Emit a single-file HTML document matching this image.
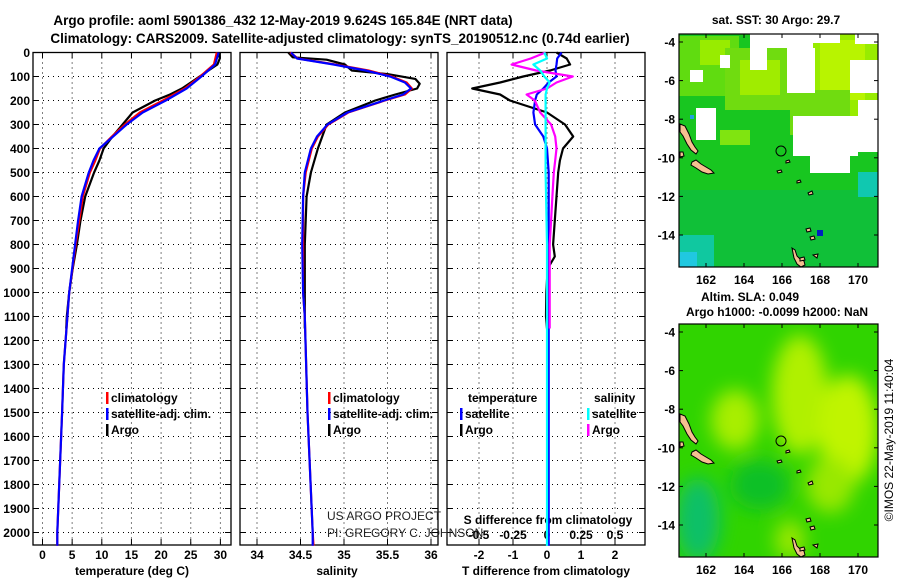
<!DOCTYPE html>
<html><head><meta charset="utf-8">
<style>
html,body{margin:0;padding:0;background:#fff;}
svg{display:block;font-family:"Liberation Sans",Arial,sans-serif;}
.b{font-weight:bold;font-size:12px;fill:#000;}
.t{font-weight:bold;font-size:13.5px;fill:#000;}
</style></head>
<body>
<svg id="chart" width="900" height="580" viewBox="0 0 900 580" xmlns="http://www.w3.org/2000/svg">
<defs>
<filter id="blur" x="-20%" y="-20%" width="140%" height="140%"><feGaussianBlur stdDeviation="9"/></filter>
<clipPath id="clipSST"><rect x="679" y="34" width="199" height="233"/></clipPath>
<clipPath id="clipSLA"><rect x="679" y="324" width="199" height="233"/></clipPath>
</defs>
<text class="t" x="283" y="25" text-anchor="middle">Argo profile: aoml 5901386_432 12-May-2019 9.624S 165.84E (NRT data)</text>
<text class="t" x="340" y="43" text-anchor="middle">Climatology: CARS2009. Satellite-adjusted climatology: synTS_20190512.nc (0.74d earlier)</text>
<g id="panels"></g>

<!-- SST map -->
<g>
<text class="b" x="776" y="24" text-anchor="middle">sat. SST: 30 Argo: 29.7</text>
<g clip-path="url(#clipSST)">
<rect x="679" y="34" width="199" height="233" fill="#18c620"/>
<rect x="679" y="190" width="199" height="77" fill="#10c038"/>
<rect x="679" y="235" width="35" height="32" fill="#10c8a0"/>
<rect x="679" y="252" width="18" height="15" fill="#20c8e0"/>
<rect x="679" y="36" width="60" height="60" fill="#60dc10"/>
<rect x="700" y="40" width="30" height="25" fill="#98ec00"/>
<rect x="725" y="48" width="65" height="62" fill="#70dc10"/>
<rect x="740" y="60" width="40" height="35" fill="#a0ec00"/>
<rect x="813" y="34" width="65" height="95" fill="#98ec00"/>
<rect x="820" y="40" width="45" height="60" fill="#b8f400"/>
<rect x="790" y="90" width="60" height="45" fill="#70dc10"/>
<rect x="720" y="130" width="30" height="15" fill="#80e410"/>
<rect x="858" y="172" width="20" height="25" fill="#10c8b0"/>
<rect x="817" y="230" width="6" height="6" fill="#0020c0"/>
<rect x="690" y="115" width="4" height="4" fill="#20a0e0"/>
<rect x="795" y="138" width="4" height="4" fill="#20a0e0"/>
<!-- white gaps -->
<rect x="750" y="34" width="63" height="14" fill="#fff"/>
<rect x="787" y="48" width="28" height="45" fill="#fff"/>
<rect x="750" y="48" width="17" height="22" fill="#fff"/>
<rect x="720" y="55" width="10" height="13" fill="#fff"/>
<rect x="690" y="70" width="13" height="12" fill="#fff"/>
<rect x="696" y="108" width="20" height="32" fill="#fff"/>
<rect x="850" y="60" width="28" height="33" fill="#fff"/>
<rect x="855" y="34" width="23" height="10" fill="#fff"/>
<rect x="805" y="34" width="35" height="9" fill="#fff"/>
<rect x="793" y="116" width="65" height="40" fill="#fff"/>
<rect x="810" y="133" width="40" height="40" fill="#fff"/>
<rect x="858" y="100" width="20" height="52" fill="#fff"/>
</g>
<g id="landSST"></g>
<circle cx="781" cy="151" r="5" fill="none" stroke="#000" stroke-width="1"/>
<rect x="679" y="34" width="199" height="233" fill="none" stroke="#000" stroke-width="1.2"/>
<g id="axSST"></g>
</g>

<!-- SLA map -->
<g>
<text class="b" x="750" y="301" text-anchor="middle">Altim. SLA: 0.049</text>
<text class="b" x="777" y="316" text-anchor="middle">Argo h1000: -0.0099 h2000: NaN</text>
<g clip-path="url(#clipSLA)">
<rect x="679" y="324" width="199" height="233" fill="#30d400"/>
<g filter="url(#blur)">
<ellipse cx="800" cy="395" rx="28" ry="60" fill="#b0f000"/>
<ellipse cx="848" cy="430" rx="30" ry="55" fill="#c0f400"/>
<ellipse cx="735" cy="420" rx="24" ry="30" fill="#a8ee00"/>
<ellipse cx="830" cy="485" rx="24" ry="28" fill="#98e800"/>
<ellipse cx="698" cy="520" rx="22" ry="42" fill="#08c068"/>
<ellipse cx="760" cy="485" rx="30" ry="25" fill="#10c028"/>
<ellipse cx="790" cy="540" rx="15" ry="20" fill="#98e800"/>
</g>
</g>
<g id="landSLA"></g>
<circle cx="781" cy="441" r="5" fill="none" stroke="#000" stroke-width="1"/>
<rect x="679" y="324" width="199" height="233" fill="none" stroke="#000" stroke-width="1.2"/>
<g id="axSLA"></g>
</g>
<text x="0" y="0" font-size="12" transform="translate(893,440) rotate(-90)" text-anchor="middle">©IMOS 22-May-2019 11:40:04</text>
<text x="327" y="520" font-size="12" fill="#222">US ARGO PROJECT</text>
<text x="327" y="537" font-size="12" fill="#222">PI: GREGORY C. JOHNSON</text>
</svg>
<script>
// ---- data ----
const depthTicks=[0,100,200,300,400,500,600,700,800,900,1000,1100,1200,1300,1400,1500,1600,1700,1800,1900,2000];
const tempTicks=[0,5,10,15,20,25,30];
const salTicks=[34,34.5,35,35.5,36];
const dTTicks=[-2,-1,0,1,2];
const dSTicks=[-0.5,-0.25,0,0.25,0.5];
const dSTickLabels=["-0.5","-0.25","0","0.25","0.5"];

const climDepth=[0,50,100,150,200,250,300,350,400,450,500,600,700,800,1000,1300,1500,1750,2000,2055];
const climTemp=[29.4,28.9,26.6,24.0,20.3,16.4,13.9,11.7,9.7,8.9,8.0,6.8,6.2,5.6,4.5,3.6,3.3,2.9,2.5,2.5];
const satTemp=[29.7,29.1,26.8,24.3,20.8,16.9,14.2,11.9,9.6,8.6,7.8,6.6,6.0,5.5,4.5,3.6,3.3,2.9,2.5,2.5];
const argoTDepth=[0,25,50,75,100,125,150,175,200,250,300,350,400,450,500,600,700,800,900,1000,1100,1150];
const argoTemp=[29.8,29.9,29.5,28.0,26.5,25.0,23.5,21.5,19.0,15.2,13.5,11.8,10.3,9.6,8.7,7.2,6.4,5.8,5.1,4.5,4.1,4.0];

const salDepth=[0,25,50,75,100,125,150,175,200,225,250,300,350,400,500,600,800,1000,1100,1500,2000,2055];
const climSal=[34.38,34.47,34.90,35.28,35.55,35.72,35.78,35.70,35.47,35.26,35.05,34.82,34.70,34.63,34.56,34.53,34.53,34.53,34.55,34.58,34.64,34.65];
const satSal=[34.39,34.46,34.88,35.25,35.53,35.70,35.77,35.68,35.46,35.25,35.04,34.81,34.69,34.62,34.55,34.53,34.52,34.53,34.55,34.58,34.64,34.64];
const argoSDepth=[0,20,30,50,75,90,110,130,150,175,200,250,300,400,500,600,700,800,1000,1100,1150];
const argoSal=[34.36,34.41,34.80,35.01,35.09,35.50,35.82,35.87,35.84,35.59,35.36,35.01,34.80,34.70,34.62,34.57,34.56,34.55,34.55,34.55,34.55];

const dDepth=[0,25,50,75,100,125,150,175,200,250,300,350,400,450,500,600,700,800,850,900,1000,1100,1150];
const dTArgo=[0.28,0.58,0.68,0.09,-0.70,-1.38,-2.2,-1.38,-1.09,0.0,0.53,0.77,0.47,0.38,0.33,0.28,0.23,0.18,0.23,0.02,-0.02,-0.03,0.0];
const dSArgo=[-0.01,-0.12,-0.26,-0.08,0.19,0.07,0.0,-0.15,-0.09,-0.05,0.03,0.06,0.07,0.06,0.05,0.04,0.03,0.02,0.02,0.02,0.02,0.02,0.02];
const dSatDepth=[0,25,50,75,100,125,150,175,200,250,300,350,400,500,800,1200,1600,2000,2055];
const dTSat=[0.43,0.3,0.28,0.25,0.28,0.05,-0.11,-0.3,-0.35,-0.4,-0.35,-0.11,0.0,0.05,0.05,0.05,0.05,0.05,0.05];
const dSSat=[-0.02,0.0,-0.1,-0.05,-0.02,0.02,0.0,-0.01,-0.01,-0.01,-0.01,-0.01,-0.01,-0.01,0.0,0.0,0.0,0.0,0.0];

const lonTicks=[162,164,166,168,170];
const latTicks=[-4,-6,-8,-10,-12,-14];

// ---- scales ----
const TOP=52.5,BOT=545;
const yD=d=>TOP+d*0.24;
const xT=t=>42.5+t*5.93;
const xS=s=>257+(s-34)*87;
const xDT=v=>547+v*34;
const xDS=v=>547+v*136;
const mapX=lon=>706+(lon-162)*19;
const mapY=(lat,top)=>top+8+(-4-lat)*19.3;

const NS="http://www.w3.org/2000/svg";
const root=document.getElementById('panels');
function el(tag,attrs,parent){const e=document.createElementNS(NS,tag);for(const k in attrs)e.setAttribute(k,attrs[k]);(parent||root).appendChild(e);return e;}
function txt(s,attrs,parent){const e=el('text',attrs,parent);e.textContent=s;return e;}

const panels=[{x0:33,x1:231,name:'temperature'},{x0:240,x1:438,name:'salinity'},{x0:447,x1:645,name:'difference'}];
panels.forEach((p,i)=>{
  const g=el('g',{});
  
  
  depthTicks.forEach(d=>{
    if(d===0)return;
    const l=el('line',{x1:p.x0,x2:p.x1,y1:yD(d),y2:yD(d),stroke:'#000','stroke-width':1,'stroke-dasharray':'1,4'},g);
    
    
    el('line',{x1:p.x0,x2:p.x0+6,y1:yD(d),y2:yD(d),stroke:'#000'},g);
    el('line',{x1:p.x1-6,x2:p.x1,y1:yD(d),y2:yD(d),stroke:'#000'},g);
  });
  let xs=[];
  if(i===0)xs=tempTicks.map(xT);
  if(i===1)xs=salTicks.map(xS);
  if(i===2)xs=dTTicks.map(xDT);
  xs.forEach(x=>{
    const l=el('line',{x1:x,x2:x,y1:TOP,y2:BOT,stroke:'#000','stroke-width':1,'stroke-dasharray':'1,4'},g);
    
    
    el('line',{x1:x,x2:x,y1:BOT-6,y2:BOT,stroke:'#000'},g);
    el('line',{x1:x,x2:x,y1:TOP,y2:TOP+6,stroke:'#000'},g);
  });
  const r=el('rect',{x:p.x0,y:TOP,width:p.x1-p.x0,height:BOT-TOP,fill:'none',stroke:'#000','stroke-width':1.3},g);
  
  
});
depthTicks.forEach(d=>{
  const t=txt(String(d),{class:'b',x:30,y:yD(d)+4.5,'text-anchor':'end'});
  
  
});
tempTicks.forEach(v=>{const t=txt(String(v),{class:'b',x:xT(v),y:559,'text-anchor':'middle'});
  });
salTicks.forEach(v=>{const t=txt(String(v),{class:'b',x:xS(v),y:559,'text-anchor':'middle'});
  });
dTTicks.forEach(v=>{const t=txt(String(v),{class:'b',x:xDT(v),y:559,'text-anchor':'middle'});
  });
dSTicks.forEach((v,k)=>{const t=txt(dSTickLabels[k],{class:'b',x:xDS(v),y:539,'text-anchor':'middle'});
  });
[['temperature (deg C)',132,'temperature-axis-title'],['salinity',337,'salinity-axis-title'],['T difference from climatology',546,'t-diff-axis-title']].forEach(a=>{
  const t=txt(a[0],{class:'b',x:a[1],y:575,'text-anchor':'middle'});
  });
{const t=txt('S difference from climatology',{class:'b',x:548,y:524,'text-anchor':'middle'});
 }

function line(xsArr,ds,fx,color,name){
  const pts=xsArr.map((v,k)=>fx(v).toFixed(1)+','+yD(ds[k]).toFixed(1)).join(' ');
  const pl=el('polyline',{points:pts,fill:'none',stroke:color,'stroke-width':2.2,'stroke-linejoin':'round'});
  
  
}
line(argoTemp,argoTDepth,xT,'#000','argo-temperature-line');
line(climTemp,climDepth,xT,'#ff0000','climatology-temperature-line');
line(satTemp,climDepth,xT,'#0000ff','satellite-temperature-line');
line(argoSal,argoSDepth,xS,'#000','argo-salinity-line');
line(climSal,salDepth,xS,'#ff0000','climatology-salinity-line');
line(satSal,salDepth,xS,'#0000ff','satellite-salinity-line');
line(dTArgo,dDepth,xDT,'#000','argo-t-diff-line');
line(dTSat,dSatDepth,xDT,'#0000ff','satellite-t-diff-line');
line(dSArgo,dDepth,xDS,'#ff00ff','argo-s-diff-line');
line(dSSat,dSatDepth,xDS,'#00ffff','satellite-s-diff-line');

function leg(x,y,color,label,name){
  const g=el('g',{});
  
  
  el('rect',{x:x,y:y-10,width:2.5,height:12,fill:color},g);
  txt(label,{class:'b',x:x+5,y:y},g);
}
leg(106,402,'#ff0000','climatology','legend-climatology');
leg(106,418,'#0000ff','satellite-adj. clim.','legend-satellite-adj');
leg(106,434,'#000','Argo','legend-argo');
leg(328,402,'#ff0000','climatology','legend-climatology-sal');
leg(328,418,'#0000ff','satellite-adj. clim.','legend-satellite-adj-sal');
leg(328,434,'#000','Argo','legend-argo-sal');
{const t=txt('temperature',{class:'b',x:468,y:402});}
{const t=txt('salinity',{class:'b',x:594,y:402});}
leg(460,418,'#0000ff','satellite','legend-t-satellite');
leg(460,434,'#000','Argo','legend-t-argo');
leg(587,418,'#00ffff','satellite','legend-s-satellite');
leg(587,434,'#ff00ff','Argo','legend-s-argo');

function mapAxes(gid,top){
  const g=document.getElementById(gid);
  lonTicks.forEach(lon=>{
    const x=mapX(lon);
    el('line',{x1:x,x2:x,y1:top+233-4,y2:top+233,stroke:'#000'},g);
    el('line',{x1:x,x2:x,y1:top,y2:top+4,stroke:'#000'},g);
    const t=txt(String(lon),{class:'b',x:x,y:top+250,'text-anchor':'middle'},g);
    
  });
  latTicks.forEach(lat=>{
    const y=mapY(lat,top);
    el('line',{x1:679,x2:683,y1:y,y2:y,stroke:'#000'},g);
    el('line',{x1:874,x2:878,y1:y,y2:y,stroke:'#000'},g);
    const t=txt(String(lat),{class:'b',x:675,y:y+4.5,'text-anchor':'end'},g);
    
  });
}
mapAxes('axSST',34);
mapAxes('axSLA',324);

// land shapes (absolute coords for SST map; shifted for SLA map)
const landPolys=[
 "680,124 685,126 689,134 692,142 695,147 698,151 696,154 691,150 687,144 683,136 680,132",
 "680,152 683,152 684,156 680,157",
 "692,162 696,160 701,164 706,167 711,170 714,173 708,174 702,172 696,168 691,165",
 "792,248 795,250 797,256 800,259 804,261 805,265 801,267 797,264 794,258",
 "777,171 781,170 782,172 778,173",
 "786,161 789,160 790,162 786,163",
 "797,181 800,180 801,182 797,183",
 "808,193 812,191 813,194 809,195",
 "806,229 810,228 811,231 807,232",
 "810,237 814,236 815,239 811,240",
 "813,255 818,254 817,258",
 "800,258 804,257 805,260 800,261"
];
function drawLand(gid,top){
  const g=document.getElementById(gid);
  landPolys.forEach(s=>{
    const pts=s.split(' ').map(p=>{const a=p.split(',');return a[0]+','+(+a[1]-34+top);}).join(' ');
    el('polygon',{points:pts,fill:'#f5c090',stroke:'#000','stroke-width':1},g);
  });
}
drawLand('landSST',34);
drawLand('landSLA',324);
</script>
</body></html>
